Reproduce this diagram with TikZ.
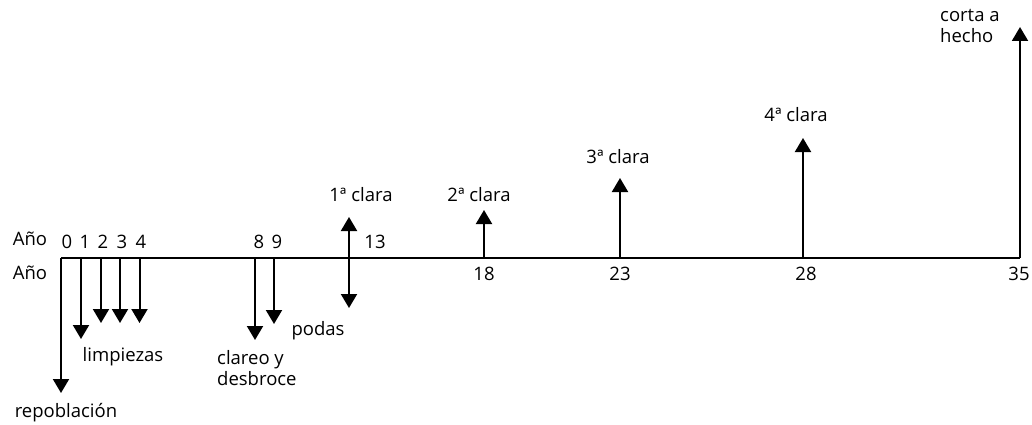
\documentclass[tikz,border=0pt]{standalone}
\usepackage{fontspec}
\setmainfont{Open Sans}
\usetikzlibrary{arrows.meta}
\begin{document}
\begin{tikzpicture}[x=1pt,y=-1pt,
  lbl/.style={font=\fontsize{18.5}{21}\selectfont, inner sep=0pt, text=black},
  ln/.style={line width=2pt},
  tip/.style={Triangle[width=16pt,length=14pt]},
  arr/.style={ln,-{Triangle[width=16pt,length=14pt]}},
  darr/.style={ln,{Triangle[width=16pt,length=14pt]}-{Triangle[width=16pt,length=14pt]}}]
\useasboundingbox (0,0) rectangle (1032,425);
% axis
\coordinate (a0) at (61,258);
\coordinate (a35) at (1020,258);
\draw[ln] (a0) -- (a35);
% base points
\coordinate (a1) at (81,258);
\coordinate (a2) at (101,258);
\coordinate (a3) at (120,258);
\coordinate (a4) at (139.5,258);
\coordinate (a8) at (255,258);
\coordinate (a9) at (274,258);
\coordinate (a18) at (484,258);
\coordinate (a23) at (620,258);
\coordinate (a28) at (803,258);
% tips
\coordinate (t0) at (61,393);
\coordinate (t1) at (81,339);
\coordinate (t2) at (101,323);
\coordinate (t3) at (120,323);
\coordinate (t4) at (139.5,323);
\coordinate (t8) at (255,340);
\coordinate (t9) at (274,324);
\coordinate (t13u) at (349,217);
\coordinate (t13d) at (349,308);
\coordinate (t18) at (484,210);
\coordinate (t23) at (620,178);
\coordinate (t28) at (803,138);
\coordinate (t35) at (1020,27);
\draw[arr] (a0) -- (t0);
\draw[arr] (a1) -- (t1);
\draw[arr] (a2) -- (t2);
\draw[arr] (a3) -- (t3);
\draw[arr] (a4) -- (t4);
\draw[arr] (a8) -- (t8);
\draw[arr] (a9) -- (t9);
\draw[darr] (t13d) -- (t13u);
\draw[arr] (a18) -- (t18);
\draw[arr] (a23) -- (t23);
\draw[arr] (a28) -- (t28);
\draw[arr] (a35) -- (t35);
% labels
\node[lbl] (anyo1) at (30,239) {Año};
\node[lbl] (anyo2) at (30,273) {Año};
\node[lbl] (n0) at (67,242) {0};
\node[lbl] (n1) at (85,242) {1};
\node[lbl] (n2) at (103,242) {2};
\node[lbl] (n3) at (122,242) {3};
\node[lbl] (n4) at (141,242) {4};
\node[lbl] (n8) at (259,242) {8};
\node[lbl] (n9) at (277,242) {9};
\node[lbl] (n13) at (375,242) {13};
\node[lbl] (n18) at (484,274) {18};
\node[lbl] (n23) at (620,274) {23};
\node[lbl] (n28) at (806,274) {28};
\node[lbl] (n35) at (1019,274) {35};
\node[lbl] (limp) at (123,357) {limpiezas};
\node[lbl,align=left,anchor=west] (clareo) at (217,368) {clareo y\\desbroce};
\node[lbl] (podas) at (318,331) {podas};
\node[lbl] (repo) at (66,413) {repoblación};
\node[lbl] (c1) at (361,195) {1ª clara};
\node[lbl] (c2) at (479,195) {2ª clara};
\node[lbl] (c3) at (618,157) {3ª clara};
\node[lbl] (c4) at (796,115) {4ª clara};
\node[lbl,align=left,anchor=west] (corta) at (940,26) {corta a\\hecho};
\end{tikzpicture}
\end{document}
